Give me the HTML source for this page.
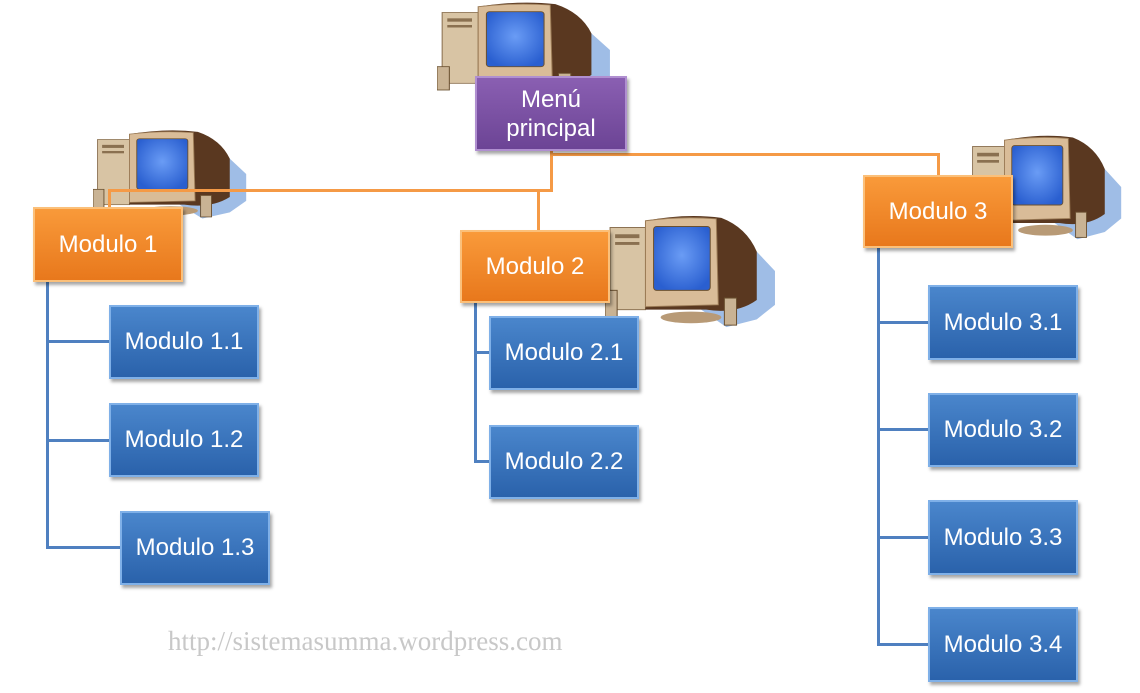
<!DOCTYPE html>
<html><head><meta charset="utf-8"><style>
body{margin:0;background:#fff;width:1140px;height:693px;overflow:hidden;position:relative;font-family:"Liberation Sans",sans-serif}
.b{position:absolute;color:#fff;font-size:24px;display:flex;align-items:center;justify-content:center;text-align:center;box-sizing:border-box;box-shadow:2px 3px 3px rgba(0,0,0,.35)}
.o{background:linear-gradient(#f99a3a,#e8781c);border:2px solid #fbc07a;}
.u{background:linear-gradient(#4a86cc,#2a62ab);border:2px solid #7fb0e8;}
.p{background:linear-gradient(#8a5fb2,#6c4495);border:2px solid #b08fd0;line-height:29px}
.l{position:absolute}
.or{background:#f59a46}.bl{background:#4f80c0}
svg.c{position:absolute}
</style></head><body>
<svg width="0" height="0" style="position:absolute"><defs>
<radialGradient id="sg" cx="50%" cy="45%" r="60%"><stop offset="0" stop-color="#6a9cf5"/><stop offset="1" stop-color="#2a5fd0"/></radialGradient>
<symbol id="pc" viewBox="0 0 170 120" preserveAspectRatio="none">
<polygon points="120,25 150,40 168,60 168,95 150,110 120,118 95,100" fill="#9fbde6"/>
<rect x="5" y="15" width="35" height="85" fill="#d8c4a4" stroke="#8a7050"/>
<rect x="10" y="22" width="24" height="4" fill="#8a7050"/>
<rect x="10" y="30" width="24" height="3" fill="#8a7050"/>
<rect x="0" y="80" width="12" height="28" fill="#c9b394" stroke="#6a5030"/>
<path d="M40 8 Q80 0 115 5 Q140 15 150 40 L150 90 Q130 105 100 100 L40 100 Z" fill="#5a3820"/>
<path d="M40 8 Q75 3 110 6 L112 95 L40 97 Z" fill="#d9bc98" stroke="#9a7a55"/>
<rect x="48" y="14" width="56" height="66" rx="3" fill="url(#sg)" stroke="#6a5030"/>
<ellipse cx="85" cy="108" rx="30" ry="6" fill="#b89a76"/>
<rect x="118" y="88" width="12" height="28" fill="#c9b394" stroke="#6a5030"/>
</symbol></defs></svg>

<svg class="c" style="left:437px;top:0" width="175" height="100"><use href="#pc" width="175" height="100"/></svg>
<svg class="c" style="left:93px;top:128px" width="155" height="92"><use href="#pc" width="155" height="92"/></svg>
<svg class="c" style="left:605px;top:213px" width="172" height="116"><use href="#pc" width="172" height="116"/></svg>
<svg class="c" style="left:968px;top:133px" width="155" height="108"><use href="#pc" width="155" height="108"/></svg>

<div class="l or" style="left:550px;top:150px;width:3px;height:42px"></div>
<div class="l or" style="left:551px;top:153px;width:389px;height:3px"></div>
<div class="l or" style="left:937px;top:153px;width:3px;height:24px"></div>
<div class="l or" style="left:108px;top:189px;width:445px;height:3px"></div>
<div class="l or" style="left:108px;top:189px;width:3px;height:19px"></div>
<div class="l or" style="left:537px;top:189px;width:3px;height:42px"></div>

<div class="l bl" style="left:46px;top:282px;width:3px;height:267px"></div>
<div class="l bl" style="left:46px;top:340px;width:64px;height:3px"></div>
<div class="l bl" style="left:46px;top:439px;width:64px;height:3px"></div>
<div class="l bl" style="left:46px;top:546px;width:75px;height:3px"></div>
<div class="l bl" style="left:474px;top:303px;width:3px;height:160px"></div>
<div class="l bl" style="left:474px;top:351px;width:16px;height:3px"></div>
<div class="l bl" style="left:474px;top:460px;width:16px;height:3px"></div>
<div class="l bl" style="left:877px;top:248px;width:3px;height:398px"></div>
<div class="l bl" style="left:877px;top:321px;width:52px;height:3px"></div>
<div class="l bl" style="left:877px;top:428px;width:52px;height:3px"></div>
<div class="l bl" style="left:877px;top:536px;width:52px;height:3px"></div>
<div class="l bl" style="left:877px;top:643px;width:52px;height:3px"></div>

<div class="b p" style="left:475px;top:76px;width:152px;height:75px">Menú<br>principal</div>
<div class="b o" style="left:33px;top:207px;width:150px;height:75px">Modulo 1</div>
<div class="b o" style="left:460px;top:230px;width:150px;height:73px">Modulo 2</div>
<div class="b o" style="left:863px;top:175px;width:150px;height:73px">Modulo 3</div>

<div class="b u" style="left:109px;top:305px;width:150px;height:74px">Modulo 1.1</div>
<div class="b u" style="left:109px;top:403px;width:150px;height:74px">Modulo 1.2</div>
<div class="b u" style="left:120px;top:511px;width:150px;height:74px">Modulo 1.3</div>
<div class="b u" style="left:489px;top:316px;width:150px;height:74px">Modulo 2.1</div>
<div class="b u" style="left:489px;top:425px;width:150px;height:74px">Modulo 2.2</div>
<div class="b u" style="left:928px;top:285px;width:150px;height:75px">Modulo 3.1</div>
<div class="b u" style="left:928px;top:393px;width:150px;height:74px">Modulo 3.2</div>
<div class="b u" style="left:928px;top:500px;width:150px;height:75px">Modulo 3.3</div>
<div class="b u" style="left:928px;top:607px;width:150px;height:75px">Modulo 3.4</div>

<div style="position:absolute;left:168px;top:626px;font-family:'Liberation Serif',serif;font-size:27px;color:#c8c8c8">http://sistemasumma.wordpress.com</div>
</body></html>
